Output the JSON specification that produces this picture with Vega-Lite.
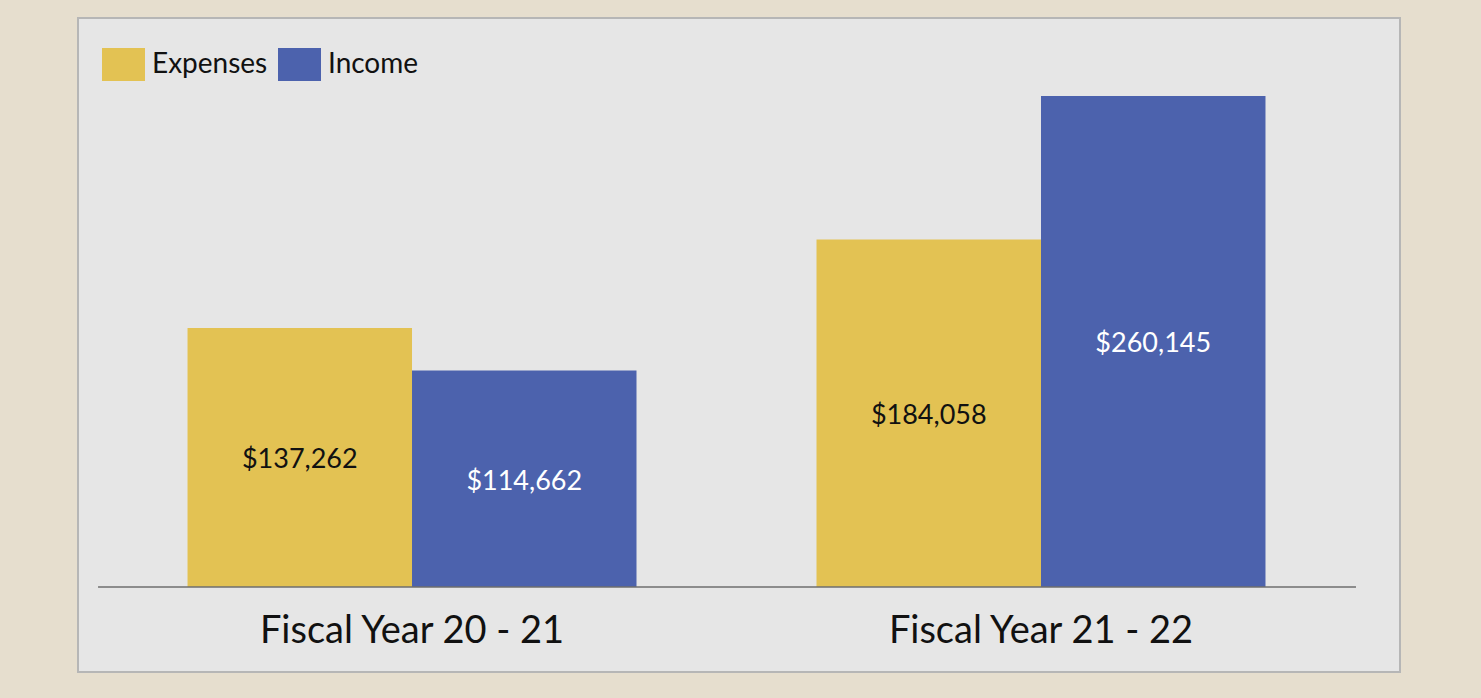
{
  "$schema": "https://vega.github.io/schema/vega-lite/v6.json",
  "width": 1322,
  "height": 654,
  "autosize": {"type": "none"},
  "padding": {"left": 78, "top": 18, "right": 81, "bottom": 26},
  "background": "#e6dece",
  "config": {
    "view": {"fill": "#e6e6e6", "stroke": "#b6b6b6", "strokeWidth": 2},
    "font": "Lato"
  },
  "data": {
    "values": [
      {"fy": "Fiscal Year 20 - 21", "type": "Expenses", "value": 137262},
      {"fy": "Fiscal Year 20 - 21", "type": "Income", "value": 114662},
      {"fy": "Fiscal Year 21 - 22", "type": "Expenses", "value": 184058},
      {"fy": "Fiscal Year 21 - 22", "type": "Income", "value": 260145}
    ]
  },
  "encoding": {
    "x": {
      "field": "fy",
      "type": "nominal",
      "scale": {"paddingInner": 0.2862, "paddingOuter": 0.194, "align": 0.4488},
      "axis": {
        "title": null,
        "domain": false,
        "ticks": false,
        "labelAngle": 0,
        "labelFontSize": 38,
        "labelLimit": 0,
        "labelColor": "#111111",
        "labelPadding": 25,
        "offset": -85
      }
    }
  },
  "layer": [
    {
      "mark": {"type": "bar"},
      "encoding": {
        "xOffset": {"field": "type", "type": "nominal", "scale": {"paddingInner": 0, "paddingOuter": 0}},
        "y": {"field": "value", "type": "quantitative", "scale": {"domain": [-45033, 301456], "zero": false, "nice": false}, "axis": null},
        "y2": {"datum": 0},
        "color": {
          "field": "type",
          "type": "nominal",
          "scale": {"domain": ["Expenses", "Income"], "range": ["#e3c253", "#4c62ad"]},
          "legend": {
            "title": null,
            "orient": "none",
            "direction": "horizontal",
            "legendX": 24,
            "legendY": 25,
            "symbolType": "M-1,-0.767H1V0.767H-1Z",
            "symbolSize": 1849,
            "symbolStrokeWidth": 0,
            "symbolOpacity": 1,
            "labelFontSize": 28,
            "labelColor": "#111111",
            "labelOffset": 7,
            "columnPadding": 10
          }
        }
      }
    },
    {
      "transform": [{"calculate": "datum.value / 2", "as": "mid"}],
      "mark": {"type": "text", "fontSize": 27, "baseline": "middle", "align": "center", "dy": 3},
      "encoding": {
        "xOffset": {"field": "type", "type": "nominal"},
        "y": {"field": "mid", "type": "quantitative"},
        "text": {"field": "value", "type": "quantitative", "format": "$,"},
        "fill": {"condition": {"test": "datum.type === 'Income'", "value": "#ffffff"}, "value": "#111111"}
      }
    },
    {
      "data": {"values": [{}]},
      "mark": {"type": "rule", "color": "#6e6e6e", "strokeWidth": 1.5},
      "encoding": {
        "x": {"datum": "Fiscal Year 20 - 21", "bandPosition": -0.1993},
        "x2": {"datum": "Fiscal Year 21 - 22", "bandPosition": 1.2016},
        "y": {"datum": 0}
      }
    }
  ]
}
